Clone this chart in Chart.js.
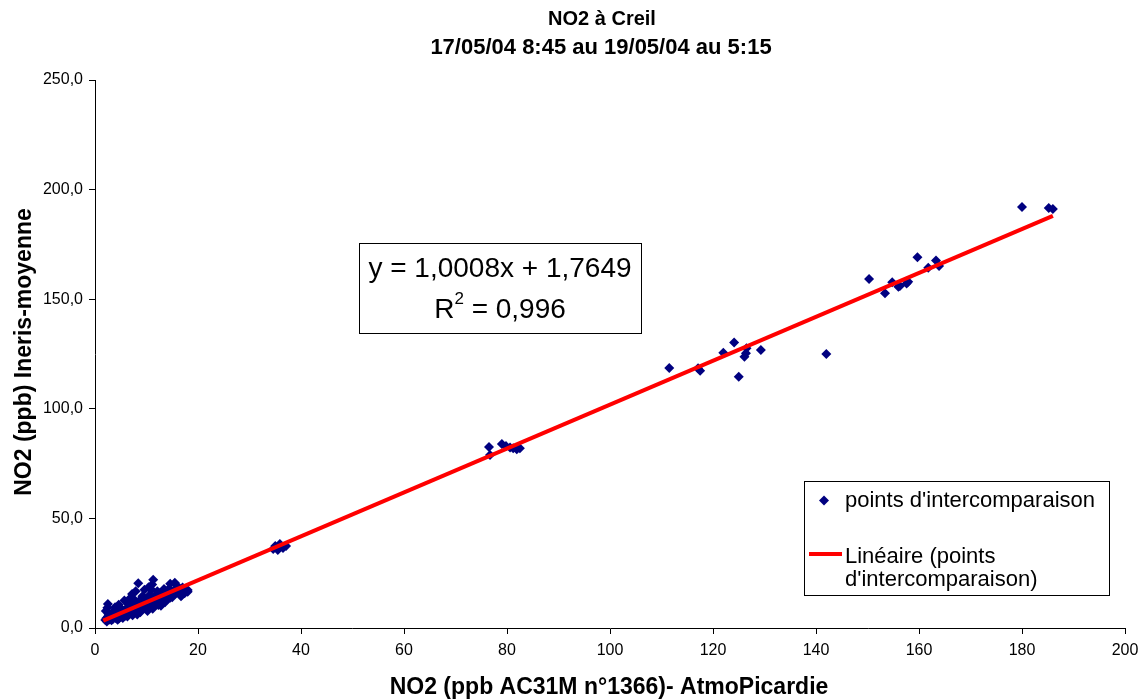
<!DOCTYPE html>
<html>
<head>
<meta charset="utf-8">
<script src="https://cdn.jsdelivr.net/npm/chart.js@4.4.1/dist/chart.umd.min.js"></script>
<style>
  html, body { margin: 0; padding: 0; background: #fff; }
  #wrap { width: 1147px; height: 700px; position: relative; }
</style>
</head>
<body>
<div id="wrap"><canvas id="no2-chart"></canvas></div>
<script>
// Valeurs (x = AC31M AtmoPicardie, y = Ineris moyenne)
const pointsX = [
    // amas près de l'origine
    2.0, 2.2, 2.5, 2.8, 3.0, 2.5, 3.3, 3.5, 3.8, 4.0, 4.2, 4.5, 4.7, 5.0, 5.2, 5.5, 5.8, 6.0, 6.2, 6.5,
    6.8, 7.0, 7.2, 7.5, 7.2, 7.8, 7.6, 8.2, 8.4, 8.6, 8.4, 9.0, 9.2, 9.5, 9.8, 10.0, 10.3, 10.6, 11.0, 11.0,
    11.1, 11.3, 12.0, 12.3, 12.6, 13.0, 13.4, 13.8, 14.2, 14.6, 14.6, 15.5, 15.5, 16.3, 16.7, 17.0, 17.4, 18.0,
    2.3, 2.6, 3.2, 3.6, 4.4, 4.9, 5.4, 6.3, 6.6, 7.3, 8.1, 8.8, 9.4, 10.2, 10.8, 11.2, 11.9, 12.8, 13.6, 14.0,
    15.0, 15.8, 16.0, 17.6, 5.7, 6.9, 7.9, 9.6, 10.4, 3.9, 4.6, 2.1, 2.4, 6.1, 7.6, 9.1, 10.9, 12.1, 13.2, 14.4,
    15.3, 18.0, 16.9, 11.5, 8.5, 5.1, 3.4, 2.7, 4.1, 6.4,
    // vers 35
    35.0, 35.9, 36.5, 35.5, 37.1, 34.6,
    // vers 80
    76.7, 79.0, 79.8, 80.6, 81.2, 81.9, 82.5, 76.5,
    // vers 110-142
    111.5, 117.1, 117.5, 122.0, 124.1, 125.0, 126.5, 126.4, 126.1, 129.3, 142.0,
    // vers 150-165
    150.3, 153.4, 154.8, 156.3, 157.6, 159.7, 161.8, 163.3, 163.9, 156.0, 157.9,
    // haut
    180.0, 185.2, 186.0
];
const pointsY = [
    3.6, 4.5, 5.2, 3.9, 4.8, 11.0, 5.6, 4.2, 6.1, 5.0, 7.0, 5.8, 4.4, 6.6, 8.5, 7.2, 5.5, 7.9, 9.2, 6.8,
    8.4, 10.0, 7.4, 11.2, 15.5, 9.0, 13.0, 6.2, 10.5, 12.4, 20.4, 8.6, 14.5, 11.0, 13.2, 9.8, 12.0, 15.0, 11.5, 17.5,
    19.8, 22.0, 13.5, 10.5, 15.8, 12.8, 17.8, 14.5, 16.2, 13.8, 20.2, 15.5, 20.6, 17.2, 14.5, 18.5, 15.8, 16.5,
    3.0, 6.5, 3.5, 7.6, 3.8, 9.0, 4.6, 5.2, 10.8, 5.8, 8.0, 7.2, 9.5, 7.8, 10.0, 8.8, 11.0, 10.2, 11.8, 13.0,
    14.0, 16.8, 19.2, 17.0, 12.5, 13.8, 16.8, 17.5, 18.6, 9.5, 10.6, 7.8, 9.2, 6.0, 7.0, 10.2, 13.4, 16.8, 14.8, 18.0,
    17.0, 17.3, 15.2, 14.2, 9.6, 5.2, 4.0, 4.1, 4.5, 7.4,
    37.4, 38.3, 36.5, 35.6, 37.4, 36.0,
    78.9, 83.9, 83.0, 82.4, 82.0, 81.5, 82.0, 82.6,
    118.6, 118.5, 117.4, 125.6, 130.2, 114.6, 127.6, 125.3, 123.8, 126.8, 125.0,
    159.2, 152.7, 157.7, 156.0, 157.2, 169.1, 164.4, 167.6, 165.1, 155.7, 158.0,
    192.1, 191.6, 191.2
];

// Droite de tendance (extrémités)
const trendX = [1.6, 186.0];
const trendY = [3.4, 188.0];

const xTicks = [0, 20, 40, 60, 80, 100, 120, 140, 160, 180, 200];
const yTicks = [0, 50, 100, 150, 200, 250];

const titleLines = ['NO2 à Creil', '17/05/04 8:45 au 19/05/04 au 5:15'];
const xTitle = 'NO2 (ppb AC31M n°1366)- AtmoPicardie';
const yTitle = 'NO2 (ppb) Ineris-moyenne';
const equationText = 'y = 1,0008x + 1,7649';
const r2Text = '0,996';
const legendPoints = "points d'intercomparaison";
const legendTrend = ['Linéaire (points', "d'intercomparaison)"];

const FONT = '"Liberation Sans", Arial, sans-serif';
const NAVY = '#000080';
const RED = '#ff0000';

// Textes, encadré de l'équation et légende
const decorPlugin = {
    id: 'decor',
    afterDraw(chart) {
        const ctx = chart.ctx;
        ctx.save();
        ctx.fillStyle = '#000';

        // titre
        ctx.textAlign = 'center';
        ctx.textBaseline = 'alphabetic';
        ctx.font = 'bold 20px ' + FONT;
        ctx.fillText(titleLines[0], 602, 25);
        ctx.font = 'bold 22px ' + FONT;
        ctx.fillText(titleLines[1], 601, 54);

        // titres des axes
        ctx.font = 'bold 23px ' + FONT;
        ctx.fillText(xTitle, 609, 694);
        ctx.save();
        ctx.translate(31, 352);
        ctx.rotate(-Math.PI / 2);
        ctx.fillText(yTitle, 0, 0);
        ctx.restore();

        // encadré de l'équation
        ctx.fillStyle = '#fff';
        ctx.fillRect(359.5, 243.5, 282, 90);
        ctx.strokeStyle = '#000';
        ctx.lineWidth = 1;
        ctx.strokeRect(359.5, 243.5, 282, 90);
        ctx.fillStyle = '#000';
        ctx.font = '28px ' + FONT;
        ctx.textAlign = 'center';
        ctx.fillText(equationText, 500, 277);

        const rW = ctx.measureText('R').width;
        const restText = ' = ' + r2Text;
        const restW = ctx.measureText(restText).width;
        ctx.font = '17px ' + FONT;
        const supW = ctx.measureText('2').width;
        let x0 = 500 - (rW + supW + restW) / 2;
        ctx.textAlign = 'left';
        ctx.font = '28px ' + FONT;
        ctx.fillText('R', x0, 318);
        ctx.font = '17px ' + FONT;
        ctx.fillText('2', x0 + rW, 304);
        ctx.font = '28px ' + FONT;
        ctx.fillText(restText, x0 + rW + supW, 318);

        // légende
        ctx.fillStyle = '#fff';
        ctx.fillRect(804.5, 481.5, 305, 114);
        ctx.strokeRect(804.5, 481.5, 305, 114);
        ctx.fillStyle = NAVY;
        ctx.beginPath();
        ctx.moveTo(824, 495.5);
        ctx.lineTo(829, 500.5);
        ctx.lineTo(824, 505.5);
        ctx.lineTo(819, 500.5);
        ctx.closePath();
        ctx.fill();
        ctx.strokeStyle = RED;
        ctx.lineWidth = 4;
        ctx.beginPath();
        ctx.moveTo(809, 554);
        ctx.lineTo(842, 554);
        ctx.stroke();
        ctx.fillStyle = '#000';
        ctx.font = '22px ' + FONT;
        ctx.fillText(legendPoints, 845, 507);
        ctx.fillText(legendTrend[0], 845, 563);
        ctx.fillText(legendTrend[1], 845, 586);
        ctx.restore();
    }
};

function initializeChart() {
    const ctx = document.getElementById('no2-chart').getContext('2d');
    const scatterData = pointsX.map((x, i) => ({ x: x, y: pointsY[i] }));
    const trendData = trendX.map((x, i) => ({ x: x, y: trendY[i] }));

    return new Chart(ctx, {
        type: 'scatter',
        data: {
            datasets: [{
                label: 'Linéaire (points d\'intercomparaison)',
                type: 'line',
                data: trendData,
                borderColor: RED,
                borderWidth: 4,
                pointRadius: 0,
                fill: false,
                order: 0
            }, {
                label: 'points d\'intercomparaison',
                data: scatterData,
                pointStyle: 'rectRot',
                pointRadius: 5,
                pointHoverRadius: 5,
                backgroundColor: NAVY,
                borderColor: NAVY,
                borderWidth: 0,
                order: 1
            }]
        },
        options: {
            responsive: true,
            maintainAspectRatio: false,
            animation: false,
            layout: { padding: { top: 80, right: 22, left: 0, bottom: 0 } },
            plugins: {
                legend: { display: false },
                tooltip: { enabled: false },
                title: { display: false }
            },
            scales: {
                x: {
                    type: 'linear',
                    min: 0,
                    max: 200,
                    afterBuildTicks: (scale) => { scale.ticks = xTicks.map(v => ({ value: v })); },
                    afterFit: (scale) => { scale.height = 72; },
                    grid: { drawOnChartArea: false, color: '#000', tickLength: 6 },
                    border: { color: '#000', width: 1 },
                    ticks: {
                        color: '#000',
                        font: { family: FONT, size: 16 },
                        padding: 7,
                        maxRotation: 0,
                        callback: (v) => String(v)
                    }
                },
                y: {
                    type: 'linear',
                    min: 0,
                    max: 250,
                    afterBuildTicks: (scale) => { scale.ticks = yTicks.map(v => ({ value: v })); },
                    afterFit: (scale) => { scale.width = 95; },
                    grid: { drawOnChartArea: false, color: '#000', tickLength: 6 },
                    border: { color: '#000', width: 1 },
                    ticks: {
                        color: '#000',
                        font: { family: FONT, size: 16 },
                        padding: 6,
                        callback: (v) => v.toFixed(1).replace('.', ',')
                    }
                }
            }
        },
        plugins: [decorPlugin]
    });
}

initializeChart();
</script>
</body>
</html>
